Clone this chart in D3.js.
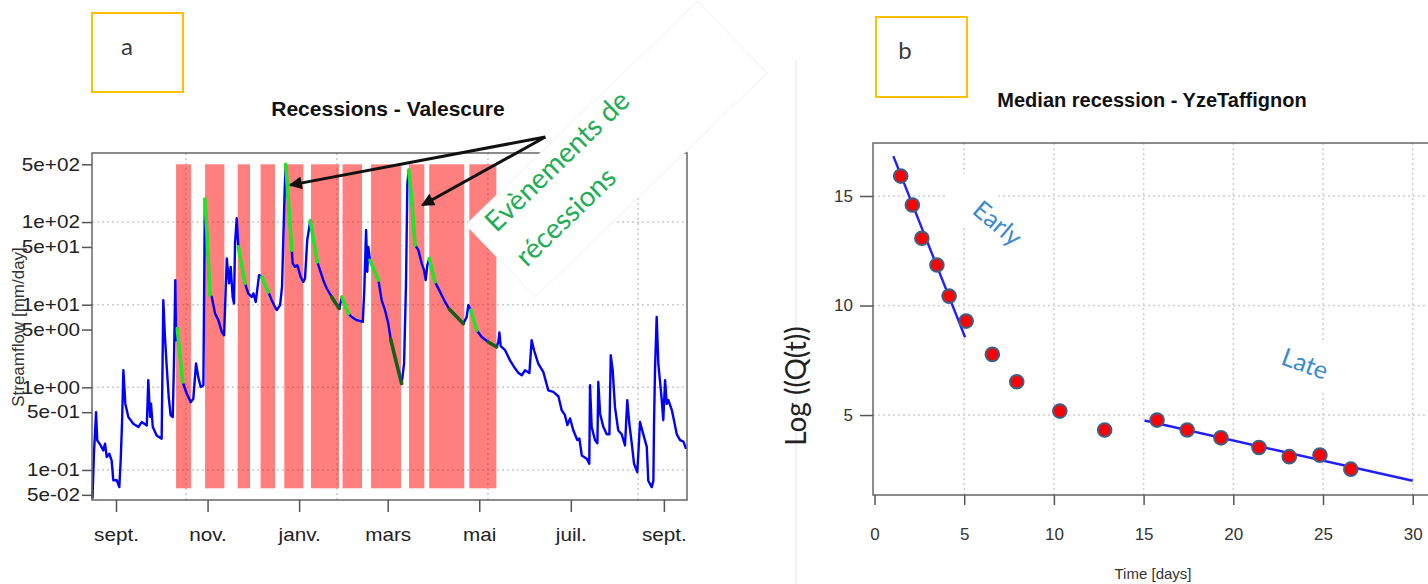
<!DOCTYPE html>
<html><head><meta charset="utf-8">
<script src="https://cdn.jsdelivr.net/npm/d3@7"></script>
<style>
body{margin:0;background:#fff;}
svg{display:block;}
</style></head>
<body>
<svg id="chart" width="1428" height="584"></svg>
<script>
// ================= Panel a : Recessions - Valescure =================
// day offsets from 1 Sept (hydrological year) and streamflow [mm/day]
const flowDays = [-15.7,-14.7,-13.3,-12.5,-10.2,-8.5,-7.3,-6.2,-4.5,-2.9,
 -1.8,0.5,2.2,3.1,4.0,4.9,6.2,8.2,11.5,14.9,
 17.1,20.5,21.5,22.7,23.3,24.5,27.1,30.4,31.5,32.6,
 33.8,35.1,36.4,37.8,38.6,39.5,40.0,40.8,42.6,44.4,
 47.1,49.8,51.5,53.3,54.8,56.4,58.2,59.2,60.3,61.3,
 62.6,63.8,66.0,68.2,70.4,72.0,73.8,75.3,76.4,77.7,
 78.6,79.3,80.4,81.5,83.7,85.9,88.1,90.4,91.5,93.1,
 95.3,97.1,99.3,101.5,103.7,107.1,109.3,110.6,111.5,112.4,
 113.1,115.0,117.1,117.7,119.3,120.8,123.0,124.8,125.9,127.4,
 129.4,131.8,134.1,135.9,138.1,140.4,143.7,146.2,148.8,150.4,
 152.6,154.8,157.0,160.4,164.4,165.4,166.6,167.4,168.1,169.2,
 172.0,174.8,177.0,179.2,181.4,183.0,186.6,190.3,191.9,193.2,
 194.1,195.0,197.0,199.2,201.4,203.7,205.2,206.3,207.4,208.7,
 210.6,212.5,215.9,219.2,222.1,226.8,231.4,233.6,234.7,236.3,
 238.3,240.3,243.6,248.0,250.8,253.6,254.7,255.4,256.3,259.2,
 262.5,265.8,268.0,270.3,272.5,275.4,276.9,278.5,281.3,284.7,
 288.0,291.3,294.7,296.9,299.1,300.7,302.5,304.7,307.3,308.7,
 310.3,313.6,315.3,315.8,316.9,319.1,320.7,321.3,322.5,324.7,
 326.9,328.7,329.6,330.9,332.4,334.6,336.9,339.1,340.6,342.0,
 343.6,345.1,347.3,349.1,351.3,353.6,354.6,356.9,358.0,358.4,
 359.1,360.2,361.3,363.5,364.6,365.8,366.9,368.0,370.3,373.6,
 375.8,378.0,379.8];
const flowValues = [0.045,0.157,0.50,0.228,0.198,0.172,0.208,0.143,0.157,0.130,
 0.075,0.075,0.062,0.130,0.363,1.61,0.634,0.437,0.363,0.331,
 0.38,0.346,1.22,0.437,0.634,0.331,0.262,0.239,11.3,4.07,
 1.76,0.763,0.458,0.437,1.94,19.8,3.71,5.14,2.44,1.16,
 0.84,0.66,0.73,1.94,1.33,1.01,1.06,190,90,40,
 13.0,12.4,7.8,6.5,4.7,4.27,36.3,18.1,28.7,12.4,
 10.3,55.2,111,50.1,30,18.1,13.7,12.4,13.7,10.8,
 22.8,21.7,17.5,14.3,11.3,8.6,9.9,16.4,66.4,256,
 500,160,45.7,31.5,28.7,30.1,21.7,18.9,20.7,60.5,
 104,58,33,26.2,19.8,15.7,12.4,10.5,9.0,12.4,
 9.8,7.8,7.1,6.5,6.2,15.0,80,25,50,34.5,
 26,19.8,11.3,8.6,5.9,3.8,2.05,1.11,1.94,18.1,
 294,426,185,52.6,45.7,31.5,26.2,19.8,30.1,36.3,
 26,18.9,14.3,10.8,8.8,7.2,5.9,7.1,9.9,8.6,
 6.5,4.9,4.07,3.54,3.3,3.08,3.54,4.6,3.15,2.81,
 2.12,1.7,1.5,1.40,1.61,1.49,3.71,2.81,1.94,1.53,
 0.92,0.88,0.78,0.53,0.46,0.35,0.42,0.30,0.23,0.24,
 0.15,0.137,0.119,1.06,0.33,0.23,0.21,1.16,0.48,0.33,
 0.27,0.27,2.44,1.61,0.58,0.30,0.27,0.198,0.70,0.36,
 0.21,0.119,0.094,0.38,0.27,0.19,0.074,0.062,0.074,0.33,
 1.68,7.1,1.94,0.73,0.40,1.22,0.63,0.70,0.53,0.27,
 0.23,0.22,0.18];

// recession periods (pink bands)
const recStart = [40.0,59.3,81.1,96.3,112.1,129.9,150.9,169.9,195.2,208.7,235.4];
const recEnd   = [50.0,72.2,89.3,105.9,124.8,148.6,163.9,189.9,205.4,232.0,253.4];
const recBand  = [0.06, 500];
// extracted recession events
const greenStart = [40.8,59.2,81.5,97.1,113.1,129.4,150.4,169.2,195.0,208.7,236.3];
const greenEnd   = [44.4,62.6,85.9,101.5,117.1,134.1,154.8,174.8,199.2,212.5,240.3];
const darkStart  = [143.7,183.0,222.1,248.0];
const darkEnd    = [148.8,190.3,231.4,253.6];

const xTickDatesA  = ["2012-09-01","2012-11-01","2013-01-01","2013-03-01","2013-05-01","2013-07-01","2013-09-01"];
const xTickLabelsA = ["sept.","nov.","janv.","mars","mai","juil.","sept."];
const yTicksA      = [500,100,50,10,5,1,0.5,0.1,0.05];
const yTickLabelsA = ["5e+02","1e+02","5e+01","1e+01","5e+00","1e+00","5e-01","1e-01","5e-02"];
const gridValuesA  = [100,10,1,0.1];
const gridDaysA    = [46.6,147.2,247.8,347.8];
// annotation arrows (data coords)
const arrowTail = [286, 1070];
const arrowTips = [[116, 280],[204, 160]];

// ================= Panel b : Median recession - YzeTaffignon =================
const recTime = [1.46,2.11,2.64,3.48,4.16,5.11,6.57,7.93,10.33,12.83,15.75,17.43,19.31,21.43,23.12,24.83,26.55];
const recLogQ = [15.91,14.59,13.07,11.85,10.43,9.29,7.77,6.52,5.18,4.32,4.77,4.32,3.96,3.52,3.10,3.17,2.53];
const earlyFitT = [1.05, 5.05], earlyFitQ = [16.82, 8.55];
const lateFitT  = [15.05, 30.0], lateFitQ  = [4.75, 2.00];
const xTicksB = [0,5,10,15,20,25,30];
const yTicksB = [5,10,15];

// ====================================================================
const svg = d3.select("#chart");
const DAY = 864e5, T0 = Date.UTC(2012, 8, 1);
const toDate = d => new Date(T0 + d * DAY);
const AF = "'Liberation Sans', Arial, sans-serif";
const CF = "Lato, 'Open Sans', sans-serif";

// faint frame artefacts
svg.append("line").attr("x1",796).attr("x2",796).attr("y1",60).attr("y2",584)
  .attr("stroke","#e4e4e4").attr("stroke-width",1);

// ---------- panel a ----------
const xA = d3.scaleUtc().domain([toDate(-16), toDate(380.4)]).range([92, 687]);
const yA = d3.scaleLog().domain([0.0433, 685]).range([500, 153]);
const gA = svg.append("g");

gA.append("g").selectAll("line").data(gridValuesA).join("line")
  .attr("x1",92).attr("x2",687).attr("y1",d=>yA(d)).attr("y2",d=>yA(d))
  .attr("stroke","#c9c9c9").attr("stroke-width",1.5).attr("stroke-dasharray","2,3");
gA.append("g").selectAll("line").data(gridDaysA).join("line")
  .attr("x1",d=>xA(toDate(d))).attr("x2",d=>xA(toDate(d))).attr("y1",153).attr("y2",500)
  .attr("stroke","#c9c9c9").attr("stroke-width",1.5).attr("stroke-dasharray","2,3");

gA.append("g").selectAll("rect").data(d3.zip(recStart, recEnd)).join("rect")
  .attr("x", d=>xA(toDate(d[0])))
  .attr("width", d=>xA(toDate(d[1])) - xA(toDate(d[0])))
  .attr("y", yA(recBand[1])).attr("height", yA(recBand[0]) - yA(recBand[1]))
  .attr("fill","#ff0000").attr("fill-opacity",0.5);

const flow = flowDays.map((d,i)=>({d, v: flowValues[i]}));
const lineA = d3.line().x(p=>xA(toDate(p.d))).y(p=>yA(p.v));
gA.append("path").datum(flow).attr("d", lineA).attr("fill","none")
  .attr("stroke","#0000ff").attr("stroke-width",2.4).attr("stroke-linejoin","round");

const seg = (s,e) => flow.filter(p => p.d >= s - 1e-6 && p.d <= e + 1e-6);
gA.append("g").selectAll("path").data(d3.zip(greenStart, greenEnd)).join("path")
  .attr("d", d=>lineA(seg(d[0], d[1]))).attr("fill","none")
  .attr("stroke","#22e622").attr("stroke-width",3.6).attr("stroke-linecap","round");
gA.append("g").selectAll("path").data(d3.zip(darkStart, darkEnd)).join("path")
  .attr("d", d=>lineA(seg(d[0], d[1]))).attr("fill","none")
  .attr("stroke","#17601a").attr("stroke-width",3.6).attr("stroke-linecap","round");

gA.append("rect").attr("x",92).attr("y",153).attr("width",595).attr("height",347)
  .attr("fill","none").attr("stroke","#666").attr("stroke-width",1.5);

const axA_x = gA.append("g").attr("transform","translate(0,500)")
  .call(d3.axisBottom(xA).tickValues(xTickDatesA.map(s=>new Date(s+"T00:00:00Z")))
    .tickFormat((d,i)=>xTickLabelsA[i]).tickSize(12));
axA_x.select(".domain").remove();
axA_x.selectAll("line").attr("stroke","#555").attr("stroke-width",1.5);
axA_x.selectAll("text").attr("y",41).attr("dy",null).attr("transform","scale(1.15,1)")
  .attr("font-family",AF).attr("font-size",18).attr("fill","#222");

const axA_y = gA.append("g").attr("transform","translate(92,0)")
  .call(d3.axisLeft(yA).tickValues(yTicksA).tickFormat((d,i)=>yTickLabelsA[i]).tickSize(10).tickPadding(0.5));
axA_y.select(".domain").remove();
axA_y.selectAll("line").attr("stroke","#555").attr("stroke-width",1.5);
axA_y.selectAll("text").attr("transform","scale(1.15,1)")
  .attr("font-family",AF).attr("font-size",18).attr("fill","#222");

gA.append("text").attr("transform","translate(24,327) rotate(-90)")
  .attr("text-anchor","middle").attr("font-family",AF).attr("font-size",17).attr("fill","#333")
  .text("Streamflow [mm/day]");

gA.append("text").attr("x",388).attr("y",116).attr("text-anchor","middle")
  .attr("font-family",AF).attr("font-weight","bold").attr("font-size",21).attr("fill","#111")
  .text("Recessions - Valescure");

// label box a
svg.append("rect").attr("x",92).attr("y",13).attr("width",91).attr("height",79)
  .attr("fill","none").attr("stroke","#ffc000").attr("stroke-width",2);
svg.append("text").attr("x",127).attr("y",55).attr("text-anchor","middle")
  .attr("font-family",CF).attr("font-size",24).attr("fill","#3a3a3a").text("a");

// callout box
const callout = svg.append("g").attr("transform","translate(616.5,149) rotate(-44)");
callout.append("rect").attr("x",-161).attr("y",-50).attr("width",322).attr("height",100)
  .attr("fill","#fff").attr("stroke","#f3f3f3").attr("stroke-width",1);
callout.append("text").attr("x",-145).attr("y",-23)
  .attr("font-family",CF).attr("font-size",28).attr("fill","#1fae56").text("Evènements de");
callout.append("text").attr("x",-147).attr("y",23)
  .attr("font-family",CF).attr("font-size",28).attr("fill","#1fae56").text("récessions");

// arrows
const defs = svg.append("defs");
defs.append("marker").attr("id","ah").attr("viewBox","0 0 10 10").attr("refX",9).attr("refY",5)
  .attr("markerWidth",17).attr("markerHeight",13).attr("markerUnits","userSpaceOnUse").attr("orient","auto")
  .append("path").attr("d","M0,0 L10,5 L0,10 Z").attr("fill","#111");
svg.append("g").selectAll("line").data(arrowTips).join("line")
  .attr("x1", xA(toDate(arrowTail[0]))).attr("y1", yA(arrowTail[1]))
  .attr("x2", d=>xA(toDate(d[0]))).attr("y2", d=>yA(d[1]))
  .attr("stroke","#111").attr("stroke-width",3).attr("marker-end","url(#ah)");

// ---------- panel b ----------
const xB = d3.scaleLinear().domain([0,30]).range([874.5, 1412.7]);
const yB = d3.scaleLinear().domain([1.35, 17.42]).range([495, 143]);
const gB = svg.append("g");

gB.append("g").selectAll("line").data(xTicksB.slice(1)).join("line")
  .attr("x1",d=>xB(d)).attr("x2",d=>xB(d)).attr("y1",143).attr("y2",495)
  .attr("stroke","#cfcfcf").attr("stroke-width",1.5).attr("stroke-dasharray","2,3");
gB.append("g").selectAll("line").data(yTicksB).join("line")
  .attr("x1",873).attr("x2",1428).attr("y1",d=>yB(d)).attr("y2",d=>yB(d))
  .attr("stroke","#cfcfcf").attr("stroke-width",1.5).attr("stroke-dasharray","2,3");

// text-box backgrounds of labels
gB.append("rect").attr("x",-52).attr("y",-24).attr("width",104).attr("height",44)
  .attr("transform","translate(992,222) rotate(40)").attr("fill","#fff");
gB.append("rect").attr("x",-50).attr("y",-26).attr("width",100).attr("height",48)
  .attr("transform","translate(1304,362) rotate(20)").attr("fill","#fff");

gB.append("text").attr("transform","translate(992,230) rotate(40)").attr("text-anchor","middle")
  .attr("font-family",CF).attr("font-size",25).attr("fill","#3a8ad0").text("Early");
gB.append("text").attr("transform","translate(1302,372) rotate(20)").attr("text-anchor","middle")
  .attr("font-family",CF).attr("font-size",25).attr("fill","#3a8ad0").text("Late");

const lineB = d3.line().x(d=>xB(d[0])).y(d=>yB(d[1]));
gB.append("path").attr("d", lineB(d3.zip(earlyFitT, earlyFitQ))).attr("fill","none")
  .attr("stroke","#1f1fff").attr("stroke-width",2.4);
gB.append("path").attr("d", lineB(d3.zip(lateFitT, lateFitQ))).attr("fill","none")
  .attr("stroke","#1f1fff").attr("stroke-width",2.4);

gB.append("g").selectAll("circle").data(d3.zip(recTime, recLogQ)).join("circle")
  .attr("cx",d=>xB(d[0])).attr("cy",d=>yB(d[1])).attr("r",6.8)
  .attr("fill","#ff0000").attr("stroke","#3f5f86").attr("stroke-width",2);

gB.append("path").attr("d","M1428,143 H873 V495 H1428")
  .attr("fill","none").attr("stroke","#666").attr("stroke-width",1.5);

const axB_x = gB.append("g").attr("transform","translate(0,495)")
  .call(d3.axisBottom(xB).tickValues(xTicksB).tickFormat(d3.format("d")).tickSize(10));
axB_x.select(".domain").remove();
axB_x.selectAll("line").attr("stroke","#555").attr("stroke-width",1.5);
axB_x.selectAll("text").attr("y",45).attr("dy",null)
  .attr("font-family",AF).attr("font-size",17).attr("fill","#333");

const axB_y = gB.append("g").attr("transform","translate(873,0)")
  .call(d3.axisLeft(yB).tickValues(yTicksB).tickFormat(d3.format("d")).tickSize(13).tickPadding(7));
axB_y.select(".domain").remove();
axB_y.selectAll("line").attr("stroke","#555").attr("stroke-width",1.5);
axB_y.selectAll("text").attr("font-family",AF).attr("font-size",17).attr("fill","#333");

gB.append("text").attr("x",1153).attr("y",579).attr("text-anchor","middle")
  .attr("font-family",AF).attr("font-size",15).attr("fill","#333").text("Time [days]");
gB.append("text").attr("transform","translate(806,386) rotate(-90)").attr("text-anchor","middle")
  .attr("font-family",CF).attr("font-size",28).attr("fill","#222").text("Log ((Q(t))");
gB.append("text").attr("x",1152).attr("y",107).attr("text-anchor","middle")
  .attr("font-family",AF).attr("font-weight","bold").attr("font-size",20).attr("fill","#111")
  .text("Median recession - YzeTaffignon");

svg.append("rect").attr("x",876).attr("y",17).attr("width",91).attr("height",80)
  .attr("fill","none").attr("stroke","#ffc000").attr("stroke-width",2);
svg.append("text").attr("x",905).attr("y",59).attr("text-anchor","middle")
  .attr("font-family",CF).attr("font-size",24).attr("fill","#3a3a3a").text("b");
</script>
</body></html>
